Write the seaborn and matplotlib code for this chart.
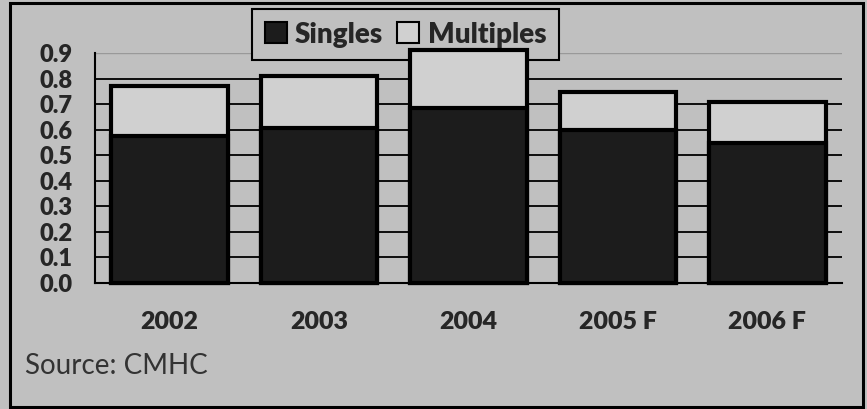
import matplotlib
matplotlib.use("Agg")
import matplotlib.pyplot as plt
import matplotlib.patches as mpatches
import seaborn as sns
import pandas as pd

years = ["2002", "2003", "2004", "2005 F", "2006 F"]
singles = [0.575, 0.607, 0.685, 0.600, 0.547]
multiples = [0.195, 0.203, 0.225, 0.149, 0.163]
yticks = [0.0, 0.1, 0.2, 0.3, 0.4, 0.5, 0.6, 0.7, 0.8, 0.9]

bg = "#c0c0c0"
dark = "#1c1c1c"
light = "#d0d0d0"

sns.set_style("white")
plt.rcParams["font.family"] = ["Lato", "DejaVu Sans"]

df = pd.DataFrame({"year": years, "singles": singles, "multiples": multiples})
df["total"] = df["singles"] + df["multiples"]

fig = plt.figure(figsize=(8.67, 4.09), dpi=100)
fig.patch.set_facecolor(bg)
ax = fig.add_axes([95 / 867, 126 / 409, 747 / 867, 230 / 409])
ax.set_facecolor(bg)

# stacked bars: total (light) first, singles (dark) on top of it
sns.barplot(data=df, x="year", y="total", color=light, width=0.78,
            edgecolor="black", linewidth=3, saturation=1, ax=ax, zorder=3)
sns.barplot(data=df, x="year", y="singles", color=dark, width=0.78,
            edgecolor="black", linewidth=3, saturation=1, ax=ax, zorder=4)
for p in ax.patches:
    p.set_clip_on(False)

ax.set_ylim(0, 0.9)
ax.set_xlim(-0.5, 4.5)
ax.set_yticks(yticks)
ax.set_yticklabels([f"{t:.1f}" for t in yticks], fontsize=17, fontweight="heavy")
ax.tick_params(axis="y", length=0, pad=16)
ax.tick_params(axis="x", length=0, pad=20)
for lab in ax.get_xticklabels():
    lab.set_fontsize(18)
    lab.set_fontweight("heavy")
ax.set_xlabel("")
ax.set_ylabel("")

for t in yticks[1:-1]:
    ax.axhline(t, color="black", lw=1.3, zorder=1)
ax.axhline(0.9, color="#999999", lw=1.0, zorder=1)

for s in ["top", "right"]:
    ax.spines[s].set_visible(False)
ax.spines["left"].set_color("black")
ax.spines["left"].set_linewidth(1.5)
ax.spines["bottom"].set_color("black")
ax.spines["bottom"].set_linewidth(1.5)

# legend sits above the gridlines but under the bars
handles = [mpatches.Patch(facecolor=dark, edgecolor="black", lw=1.5, label="Singles"),
           mpatches.Patch(facecolor=light, edgecolor="black", lw=1.5, label="Multiples")]
leg = ax.legend(handles=handles, loc="upper left", ncol=2,
                bbox_to_anchor=(252 / 867, 1 - 9 / 409),
                bbox_transform=fig.transFigure,
                frameon=True, fancybox=False, facecolor=bg, edgecolor="black",
                prop={"size": 20, "weight": "heavy"}, handlelength=0.8,
                handleheight=0.8, handletextpad=0.3, columnspacing=0.5,
                borderpad=0.45, borderaxespad=0)
leg.get_frame().set_linewidth(1.5)
leg.get_frame().set_alpha(1)
leg.set_zorder(2)

fig.text(25 / 867, 1 - 366 / 409, "Source: CMHC", fontsize=20, color="#333333",
         va="center", ha="left")

frame = mpatches.Rectangle((10 / 867, 2 / 409), 853 / 867, 404 / 409,
                           transform=fig.transFigure, fill=False,
                           edgecolor="black", lw=2.2)
fig.patches.append(frame)

fig.savefig("out.png", dpi=100, facecolor=fig.get_facecolor())
